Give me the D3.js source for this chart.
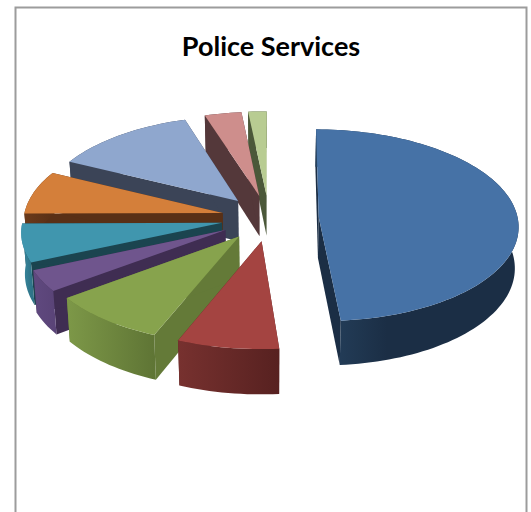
<!DOCTYPE html>
<html>
<head>
<meta charset="utf-8">
<script src="https://cdn.jsdelivr.net/npm/d3@7"></script>
<style>
  html, body { margin: 0; padding: 0; background: #fff; overflow: hidden; }
  svg { display: block; }
</style>
</head>
<body>
<svg id="chart" width="531" height="512"></svg>
<script>
// Share of each service, clockwise from just past twelve o'clock
const titleText = "Police Services";
const shares = [48.6, 7.54, 8.72, 3.61, 6.39, 7.3, 12.84, 3.33, 1.67];
const explodes = [0.25, 0.24, 0.24, 0.25, 0.24, 0.24, 0.24, 0.24, 0.24];
const topColors = ["#4672a6", "#a44441", "#87a34d", "#6f558d", "#4096ae", "#d47f3a", "#8fa7ce", "#ce8e8c", "#b8cc92"];
const sideColors = ["#1b2e45", "#572221", "#647a38", "#3f2d52", "#1b444f", "#593016", "#3b4457", "#54383a", "#4b5839"];
const rimLeft = ["#26425f", "#77312f", "#7d9848", "#60497f", "#3a8ba2", "#6a3a1b", "#3b4457", "#54383a", "#4b5839"];
const rimRight = ["#1b2e45", "#572120", "#5f7535", "#5a4478", "#2f7488", "#593016", "#3b4457", "#54383a", "#4b5839"];
// Painter's order: rear slices first, the front ones over them
const paintOrder = [8, 7, 6, 5, 4, 3, 2, 1, 0];

// Projection of the tilted disc
const rotation = 0.5 * Math.PI / 180;
const centerX = 269, centerY = 218;
const radiusX = 199, radiusY = 96;
const perspective = 0.084;
const depth = 41;
const baseShrink = 0.985;

const svg = d3.select("#chart");
const defs = svg.append("defs");

// Chart frame, running off the bottom of the page
svg.append("rect")
  .attr("x", 15.5).attr("y", 7.5)
  .attr("width", 511).attr("height", 530)
  .attr("fill", "#fff").attr("stroke", "#9c9c9c").attr("stroke-width", 2);

svg.append("text")
  .attr("x", 271).attr("y", 56)
  .attr("text-anchor", "middle")
  .attr("font-family", "Lato, 'Open Sans', sans-serif")
  .attr("font-weight", 700).attr("font-size", 27)
  .attr("fill", "#000")
  .text(titleText);

const scaleU = d3.scaleLinear().domain([0, 1]).range([0, radiusX]);
const scaleV = d3.scaleLinear().domain([0, 1]).range([0, radiusY]);

// Disc coordinates (u right, v toward the viewer) to page coordinates
function project(u, v, level) {
  const grow = 1 + perspective * v;
  const shrink = level ? baseShrink : 1;
  return [
    centerX + scaleU(u) * grow * shrink,
    centerY + scaleV(v) * grow + level * depth * grow
  ];
}

const pie = d3.pie().sort(null).value(d => d)
  .startAngle(rotation).endAngle(2 * Math.PI);
const arcs = pie(shares);
const path = d3.line().curve(d3.curveLinear);

const sliceLayer = svg.append("g");

paintOrder.forEach(i => {
  const a = arcs[i];
  const mid = (a.startAngle + a.endAngle) / 2;
  const ox = explodes[i] * Math.sin(mid), oy = -explodes[i] * Math.cos(mid);
  const steps = Math.max(4, Math.ceil((a.endAngle - a.startAngle) / 0.03));
  const angles = d3.range(steps + 1).map(k => a.startAngle + (a.endAngle - a.startAngle) * k / steps);
  const rimAt = (t, level) => project(ox + Math.sin(t), oy - Math.cos(t), level);
  const apexTop = project(ox, oy, 0), apexBase = project(ox, oy, 1);

  const rimTop = angles.map(t => rimAt(t, 0));
  const rimBase = angles.map(t => rimAt(t, 1));

  const g = sliceLayer.append("g");

  // Flat cut faces toward the slice's centre
  [[rimTop[0], rimBase[0]], [rimTop[steps], rimBase[steps]]].forEach(([top, base]) => {
    g.append("path")
      .attr("d", path([apexTop, top, base, apexBase]) + "Z")
      .attr("fill", sideColors[i]);
  });

  // Curved outer wall with a horizontal shade
  const xs = d3.extent(rimTop, p => p[0]);
  const gradId = "rim" + i;
  const grad = defs.append("linearGradient")
    .attr("id", gradId)
    .attr("gradientUnits", "userSpaceOnUse")
    .attr("x1", xs[0]).attr("x2", xs[0] + (i === 0 ? (xs[1] - xs[0]) * 0.35 : xs[1] - xs[0]))
    .attr("y1", 0).attr("y2", 0);
  grad.append("stop").attr("offset", 0).attr("stop-color", rimLeft[i]);
  grad.append("stop").attr("offset", 1).attr("stop-color", rimRight[i]);
  g.append("path")
    .attr("d", path(rimTop.concat(rimBase.slice().reverse())) + "Z")
    .attr("fill", `url(#${gradId})`);

  // Top face
  g.append("path")
    .attr("d", path([apexTop].concat(rimTop)) + "Z")
    .attr("fill", topColors[i]);
});
</script>
</body>
</html>
